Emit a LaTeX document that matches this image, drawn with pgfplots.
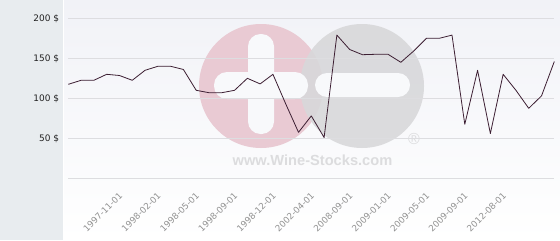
\documentclass[border=0pt]{standalone}
\usepackage{fontspec}
\setmainfont{DejaVu Sans}
\newfontfamily\wmfont{Liberation Sans}
\usepackage{pgfplots}
\pgfplotsset{compat=1.18}
\definecolor{panel}{RGB}{232,236,239}
\definecolor{bgtop}{RGB}{241,242,247}
\definecolor{gridc}{RGB}{221,221,224}
\definecolor{linec}{RGB}{60,30,50}
\definecolor{wmpink}{RGB}{233,202,211}
\definecolor{wmgray}{RGB}{216,216,218}
\definecolor{wmtext}{RGB}{220,220,222}
\definecolor{xlab}{RGB}{145,145,145}
\definecolor{ylab}{RGB}{34,34,34}
\begin{document}
\begin{tikzpicture}[x=1bp,y=1bp]
\useasboundingbox (0,0) rectangle (560,240);
\fill[white] (0,0) rectangle (560,240);
\shade[top color=bgtop, bottom color=white] (64,0) rectangle (560,240);
\fill[panel] (0,0) rectangle (62.5,240);
% watermark
\fill[wmpink] (261,154) circle (62);
\fill[wmgray, opacity=0.9] (362,154) circle (62);
\fill[bgtop!50!white, rounded corners=12.5bp] (248,106) rectangle (274,206);
\fill[bgtop!50!white, rounded corners=13bp] (214,141) rectangle (308,168);
\fill[bgtop!50!white, rounded corners=12bp] (315,143) rectangle (410,167);
\node[anchor=base, font=\wmfont\bfseries\fontsize{14.7}{16}\selectfont, text=wmtext, inner sep=0] at (312.5,75) {www.Wine-Stocks.com};
\node[font=\wmfont\fontsize{16}{18}\selectfont, text=wmtext, inner sep=0] at (414,101) {®};
\begin{axis}[
  at={(68.3bp,61.7bp)}, anchor=south west,
  scale only axis, width=486bp, height=160bp,
  xmin=0, xmax=38, ymin=0, ymax=200,
  clip=false,
  axis line style={draw=none},
  major tick length=0pt,
  ytick={0,50,100,150,200},
  yticklabels={{},50 \$,100 \$,150 \$,200 \$},
  ymajorgrids,
  grid style={gridc, line width=0.8bp},
  xtick={4,7,10,13,16,19,22,25,28,31,34},
  xticklabels={1997-11-01,1998-02-01,1998-05-01,1998-09-01,1998-12-01,2002-04-01,2008-09-01,2009-01-01,2009-05-01,2009-09-01,2012-08-01},
  xticklabel style={font=\fontsize{8.8}{10}\selectfont, text=xlab, inner sep=0pt, yshift=-16bp, xshift=1.5bp, rotate=45, anchor=east},
  yticklabel style={font=\fontsize{9}{10}\selectfont, text=ylab, inner sep=0pt, anchor=east, xshift=-9bp},
]
\addplot[linec, line width=0.8bp, line join=round, mark=none] coordinates {
(0,117.5) (1,122.5) (2,122.5) (3,130) (4,128.5) (5,122.5) (6,135) (7,140) (8,140) (9,136)
(10,110) (11,107) (12,107) (13,110) (14,125) (15,118) (16,130) (17,93) (18,57.5) (19,78)
(20,51) (21,179) (22,161) (23,154.5) (24,155) (25,155) (26,145) (27,159) (28,175) (29,175)
(30,179) (31,67.5) (32,135) (33,56) (34,130) (35,110) (36,87.5) (37,103) (38,146)
};
\end{axis}
\end{tikzpicture}
\end{document}
